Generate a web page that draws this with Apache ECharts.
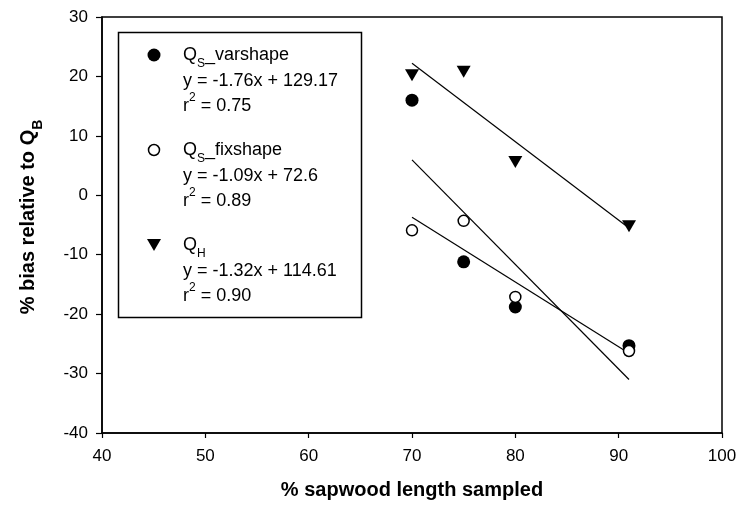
<!DOCTYPE html>
<html>
<head>
<meta charset="utf-8">
<script src="https://cdn.jsdelivr.net/npm/echarts@6/dist/echarts.min.js"></script>
<style>
  html, body { margin: 0; padding: 0; background: #fff; }
  #chart { width: 742px; height: 512px; }
</style>
</head>
<body>
<div id="chart"></div>
<script>
// Percent of sapwood length sampled (x) and bias relative to Q_B (y)
const sapwoodPct = [70, 75, 80, 91];
const qsVarshape = [16.0, -11.2, -18.8, -25.3];
const qsFixshape = [-5.9, -4.3, -17.1, -26.2];
const qH = [20.2, 20.8, 5.6, -5.2];

// Linear fits as reported in the legend (varshape, fixshape, Q_H)
const fitSlopes = [-1.76, -1.09, -1.32];
const fitIntercepts = [129.17, 72.6, 114.61];
const fitR2 = ['0.75', '0.89', '0.90'];
const fitRange = [70, 91];

const xAxisRange = [40, 100, 10];
const yAxisRange = [-40, 30, 10];

const FONT = '"Liberation Sans", Arial, sans-serif';

const pairs = (xs, ys) => xs.map((x, i) => [x, ys[i]]);
const fitLine = (k) => fitRange.map(x => [x, +(fitSlopes[k] * x + fitIntercepts[k]).toFixed(3)]);

const trianglePath = 'path://M0,0L14,0L7,12Z';

const chart = echarts.init(document.getElementById('chart'), null, { renderer: 'canvas' });

const lineStyle = { color: '#000', width: 1.2 };

// Legend block texts
const legendRich = {
  t: { fontFamily: FONT, fontSize: 18, color: '#000', lineHeight: 22 },
  sub: { fontFamily: FONT, fontSize: 12, color: '#000', lineHeight: 22, verticalAlign: 'bottom', padding: [0, 0, -4, 0] },
  sup: { fontFamily: FONT, fontSize: 12, color: '#000', lineHeight: 22, verticalAlign: 'top', padding: [-3, 0, 0, 0] }
};
function legendText(x, cy, text) {
  return { type: 'text', x: x, y: cy, z: 10,
    style: { text: text, rich: legendRich, fill: '#000', verticalAlign: 'middle' } };
}
const legendX = 183;
const groupCenters = [55, 150, 245];
const groupTitles = ['{t|Q}{sub|S}{t|_varshape}', '{t|Q}{sub|S}{t|_fixshape}', '{t|Q}{sub|H}'];

const graphics = [
  { type: 'rect', shape: { x: 118.5, y: 32.5, width: 243, height: 285 }, z: 5,
    style: { fill: '#fff', stroke: '#000', lineWidth: 1.5 } },
  { type: 'circle', shape: { cx: 154, cy: 55, r: 6.5 }, z: 10, style: { fill: '#000' } },
  { type: 'circle', shape: { cx: 154, cy: 150, r: 5.5 }, z: 10, style: { fill: '#fff', stroke: '#000', lineWidth: 1.5 } },
  { type: 'polygon', shape: { points: [[147, 239], [161, 239], [154, 251]] }, z: 10, style: { fill: '#000' } }
];
groupCenters.forEach((cy, k) => {
  graphics.push(legendText(legendX, cy, groupTitles[k]));
  const sign = fitIntercepts[k] >= 0 ? '+' : '-';
  graphics.push(legendText(legendX, cy + 26,
    '{t|y = ' + fitSlopes[k] + 'x ' + sign + ' ' + Math.abs(fitIntercepts[k]) + '}'));
  graphics.push(legendText(legendX, cy + 51, '{t|r}{sup|2}{t| = ' + fitR2[k] + '}'));
});

// Y axis title, rotated
graphics.push({
  type: 'text', x: 28, y: 217, rotation: Math.PI / 2, z: 10,
  style: {
    text: '{b|% bias relative to Q}{bs|B}',
    align: 'center', verticalAlign: 'middle',
    rich: {
      b: { fontFamily: FONT, fontSize: 20, fontWeight: 'bold', color: '#000', lineHeight: 26 },
      bs: { fontFamily: FONT, fontSize: 14, fontWeight: 'bold', color: '#000', lineHeight: 26, verticalAlign: 'bottom', padding: [0, 0, -4, 0] }
    }
  }
});

const option = {
  backgroundColor: '#fff',
  animation: false,
  grid: { left: 102, right: 20, top: 17, bottom: 79, show: true, borderColor: '#000', borderWidth: 1.5, containLabel: false },
  xAxis: {
    type: 'value', min: xAxisRange[0], max: xAxisRange[1], interval: xAxisRange[2],
    name: '% sapwood length sampled', nameLocation: 'middle', nameGap: 47,
    nameTextStyle: { fontFamily: FONT, fontSize: 20, fontWeight: 'bold', color: '#000' },
    axisLine: { show: true, onZero: false, lineStyle: { color: '#000', width: 1.5 } },
    axisTick: { show: true, length: 5, lineStyle: { color: '#000', width: 1.2 } },
    axisLabel: { fontFamily: FONT, fontSize: 17, color: '#000', margin: 15 },
    splitLine: { show: false }
  },
  yAxis: {
    type: 'value', min: yAxisRange[0], max: yAxisRange[1], interval: yAxisRange[2],
    axisLine: { show: true, onZero: false, lineStyle: { color: '#000', width: 1.5 } },
    axisTick: { show: true, length: 6, lineStyle: { color: '#000', width: 1.2 } },
    axisLabel: { fontFamily: FONT, fontSize: 17, color: '#000', margin: 14 },
    splitLine: { show: false }
  },
  graphic: graphics,
  series: [
    { name: 'Q_S varshape fit', type: 'line', data: fitLine(0), symbol: 'none', lineStyle: lineStyle, z: 2 },
    { name: 'Q_S fixshape fit', type: 'line', data: fitLine(1), symbol: 'none', lineStyle: lineStyle, z: 2 },
    { name: 'Q_H fit', type: 'line', data: fitLine(2), symbol: 'none', lineStyle: lineStyle, z: 2 },
    { name: 'Q_S varshape', type: 'scatter', data: pairs(sapwoodPct, qsVarshape), symbol: 'circle', symbolSize: 13,
      itemStyle: { color: '#000', opacity: 1 }, z: 3 },
    { name: 'Q_S fixshape', type: 'scatter', data: pairs(sapwoodPct, qsFixshape), symbol: 'circle', symbolSize: 11,
      itemStyle: { color: '#fff', borderColor: '#000', borderWidth: 1.5, opacity: 1 }, z: 4 },
    { name: 'Q_H', type: 'scatter', data: pairs(sapwoodPct, qH), symbol: trianglePath, symbolSize: [14, 12],
      itemStyle: { color: '#000', opacity: 1 }, z: 3 }
  ]
};
chart.setOption(option);
</script>
</body>
</html>
